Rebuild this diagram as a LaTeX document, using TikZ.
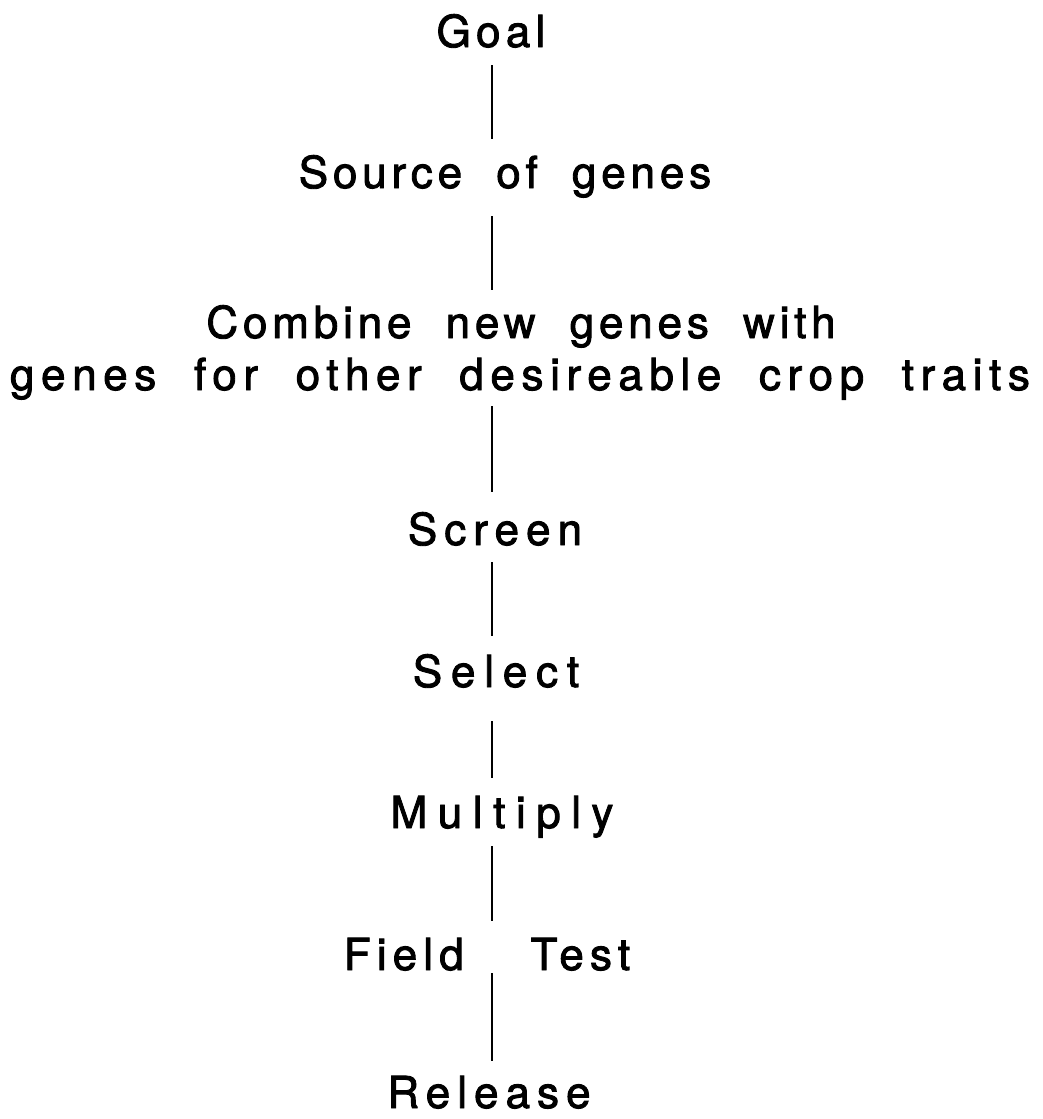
\documentclass[tikz,border=0pt]{standalone}
\usepackage{fontspec}
\newfontfamily\stepfamily[LetterSpace=12,FakeBold=2,WordSpace=2.0]{TeX Gyre Heros}
\newcommand{\stepfont}{\stepfamily\fontsize{44}{52}\selectfont}
\newcommand{\track}[1]{\addfontfeatures{LetterSpace=#1}}
\begin{document}
\begin{tikzpicture}[x=1pt,y=-1pt,
  stage/.style={inner sep=0pt, anchor=base, font=\stepfont,
                text height=31.6pt, text depth=0pt},
  link/.style={line width=2.4pt}]
\useasboundingbox (0,0) rectangle (1043,1119);
\coordinate (spine) at (492,0);

\node[stage] (goal)  at (491,47)   {\track{12}Goal};
\node[stage] (src)   at (505,188)  {\track{11}Source of genes};
\node[stage] (comb1) at (521,338)  {\track{11}Combine new genes with};
\node[stage] (comb2) at (520,390)  {\track{15}genes for other desireable crop traits};
\node[stage] (scr)   at (495,545)  {\track{16}Screen};
\node[stage] (sel)   at (496,687)  {\track{20}Select};
\node[stage] (mult)  at (502,828)  {\track{24}Multiply};
\node[stage] (field) at (487,970)  {\track{14}Field\hspace{30pt} Test};
\node[stage] (rel)   at (489,1108) {\track{16}Release};

\draw[link, shorten <=18pt, shorten >=17pt] (goal.south -| spine) -- (src.north -| spine);
\draw[link, shorten <=28pt, shorten >=16pt] (src.south -| spine) -- (comb1.north -| spine);
\draw[link, shorten <=16pt, shorten >=21pt] (comb2.south -| spine) -- (scr.north -| spine);
\draw[link, shorten <=17pt, shorten >=19pt] (scr.south -| spine) -- (sel.north -| spine);
\draw[link, shorten <=34pt, shorten >=18pt] (sel.south -| spine) -- (mult.north -| spine);
\draw[link, shorten <=18pt, shorten >=17pt] (mult.south -| spine) -- (field.north -| spine);
\draw[link, shorten <=3pt, shorten >=15pt] (field.south -| spine) -- (rel.north -| spine);
\end{tikzpicture}
\end{document}
